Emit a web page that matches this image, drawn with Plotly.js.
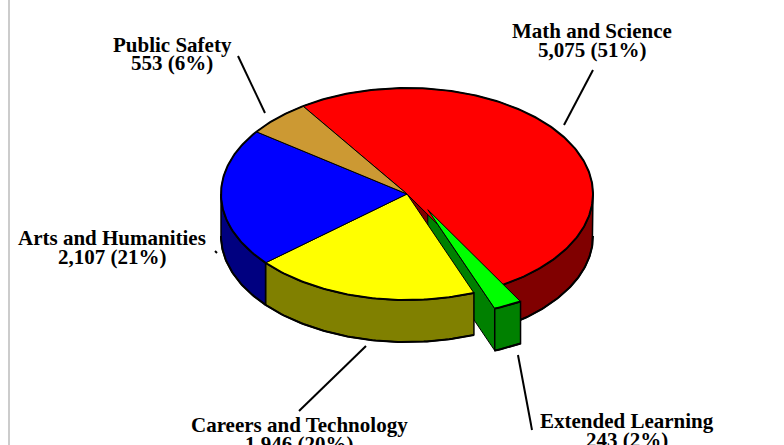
<!DOCTYPE html>
<html>
<head>
<meta charset="utf-8">
<script src="https://cdn.plot.ly/plotly-3.0.1.min.js"></script>
<style>html,body{margin:0;padding:0;background:#fff;}#chart{width:784px;height:445px;}</style>
</head>
<body>
<div id="chart"></div>
<script>
// ---- data ----
const categories = ['Math and Science', 'Extended Learning', 'Careers and Technology', 'Arts and Humanities', 'Public Safety'];
const values = [5075, 243, 1946, 2107, 553];
const pulls = [0, 0.2, 0, 0, 0];

// ---- styles ----
const topColors  = ['#FF0000', '#00FF00', '#FFFF00', '#0000FF', '#CC9933'];
const sideColors = ['#800000', '#008000', '#808000', '#000080', '#996633'];

// ---- geometry (pixel space of the plot) ----
const W = 784, H = 445;
const cx = 407, cy = 194, rx = 186, ry = 106, depth = 42;
const startAngle = 124;          // degrees, slices go clockwise
const explodeScale = [1.3, 0.82]; // perspective tweak of the pull direction

// label placement: centre x, baseline of line 1 and 2
const labelPos = {
  'Math and Science':       {x: 592, b1: 38,  b2: 57},
  'Extended Learning':      {x: 627, b1: 428, b2: 447},
  'Careers and Technology': {x: 299, b1: 432, b2: 451},
  'Arts and Humanities':    {x: 112, b1: 245, b2: 264},
  'Public Safety':          {x: 172, b1: 52,  b2: 70}
};
const leaderPos = {
  'Math and Science':       [[593, 70], [564, 125]],
  'Extended Learning':      [[518, 355], [532, 430]],
  'Careers and Technology': [[366, 346], [299, 411]],
  'Arts and Humanities':    [[215, 251], [217, 253]],
  'Public Safety':          [[238, 56], [265, 113]]
};

const total = values.reduce((a, b) => a + b, 0);
const rad = d => d * Math.PI / 180;
function P(theta, off, r, dz) {
  r = (r === undefined) ? 1 : r; dz = dz || 0;
  return [cx + off[0] + r * rx * Math.cos(rad(theta)), cy + off[1] - r * ry * Math.sin(rad(theta)) + dz];
}
function arc(a, b, off, dz) { // from angle a to angle b
  const pts = [];
  const n = Math.max(2, Math.ceil(Math.abs(b - a)));
  for (let i = 0; i <= n; i++) pts.push(P(a + (b - a) * i / n, off, 1, dz));
  return pts;
}

// slices
let cum = 0;
const slices = values.map((v, i) => {
  const a0 = startAngle - cum / total * 360;
  cum += v;
  const a1 = startAngle - cum / total * 360;
  const mid = (a0 + a1) / 2;
  const off = [pulls[i] * rx * Math.cos(rad(mid)) * explodeScale[0],
               -pulls[i] * ry * Math.sin(rad(mid)) * explodeScale[1]];
  return {i, a0, a1, off};
});

function poly(pts, fill, lw) {
  return {
    type: 'scatter', mode: 'lines', x: pts.map(p => p[0]), y: pts.map(p => p[1]),
    fill: 'toself', fillcolor: fill, line: {color: '#000', width: lw},
    hoverinfo: 'skip', showlegend: false
  };
}
function line(pts, lw) {
  return {
    type: 'scatter', mode: 'lines', x: pts.map(p => p[0]), y: pts.map(p => p[1]),
    line: {color: '#000', width: lw}, hoverinfo: 'skip', showlegend: false
  };
}

function radialTraces(s) {
  const out = [];
  const c = P(0, s.off, 0), cd = P(0, s.off, 0, depth);
  if (Math.cos(rad(s.a1)) > 0) {
    const r = P(s.a1, s.off), rd = P(s.a1, s.off, 1, depth);
    out.push(poly([c, r, rd, cd, c], sideColors[s.i], 1));
  }
  if (Math.cos(rad(s.a0)) < 0) {
    const r = P(s.a0, s.off), rd = P(s.a0, s.off, 1, depth);
    out.push(poly([c, r, rd, cd, c], sideColors[s.i], 1));
  }
  return out;
}
function wallTraces(s) {
  const out = [];
  const lo = Math.max(s.a1, -180), hi = Math.min(s.a0, 0);
  if (hi > lo) {
    const topA = arc(lo, hi, s.off, 0);
    const botA = arc(hi, lo, s.off, depth);
    out.push(poly(topA.concat(botA, [topA[0]]), sideColors[s.i], 1.5));
    out.push(line(botA, 2));
  }
  return out;
}
function topTraces(s) {
  const c = P(0, s.off, 0);
  const a = arc(s.a0, s.a1, s.off, 0);
  return [poly([c].concat(a, [c]), topColors[s.i], 1), line(a, 2)];
}

const normal = slices.filter(s => pulls[s.i] === 0);
const pulled = slices.filter(s => pulls[s.i] !== 0);
let traces = [];
normal.forEach(s => { traces = traces.concat(radialTraces(s)); });
pulled.forEach(s => { traces = traces.concat(radialTraces(s)); });
normal.forEach(s => { traces = traces.concat(wallTraces(s)); });
pulled.forEach(s => { traces = traces.concat(wallTraces(s)); });
normal.forEach(s => { traces = traces.concat(topTraces(s)); });
pulled.forEach(s => { traces = traces.concat(topTraces(s)); });

// labels
const fs = 21;
const font = {family: 'Liberation Serif, Times New Roman, serif', size: fs, color: '#000', weight: 'bold'};
const annotations = [];
const shapes = [];
categories.forEach((name, i) => {
  const lp = labelPos[name];
  const pct = Math.round(values[i] / total * 100);
  const valText = values[i].toLocaleString('en-US') + ' (' + pct + '%)';
  annotations.push({x: lp.x, y: lp.b1 - 7, xref: 'x', yref: 'y', text: name, showarrow: false,
    xanchor: 'center', yanchor: 'middle', font: font, borderpad: 0});
  annotations.push({x: lp.x, y: lp.b2 - 7, xref: 'x', yref: 'y', text: valText, showarrow: false,
    xanchor: 'center', yanchor: 'middle', font: font, borderpad: 0});
  const l = leaderPos[name];
  shapes.push({type: 'line', xref: 'x', yref: 'y', x0: l[0][0], y0: l[0][1], x1: l[1][0], y1: l[1][1],
    line: {color: '#000', width: 2}});
});
// left border line of the chart area
shapes.push({type: 'line', xref: 'paper', yref: 'paper', x0: 9 / W, x1: 9 / W, y0: 0, y1: 1,
  line: {color: '#CCCCCC', width: 2}});

const layout = {
  width: W, height: H,
  margin: {l: 0, r: 0, t: 0, b: 0},
  paper_bgcolor: '#fff', plot_bgcolor: '#fff',
  xaxis: {range: [0, W], visible: false, fixedrange: true},
  yaxis: {range: [H, 0], visible: false, fixedrange: true},
  showlegend: false,
  annotations: annotations,
  shapes: shapes
};
Plotly.newPlot('chart', traces, layout, {displayModeBar: false, staticPlot: true});
</script>
</body>
</html>
